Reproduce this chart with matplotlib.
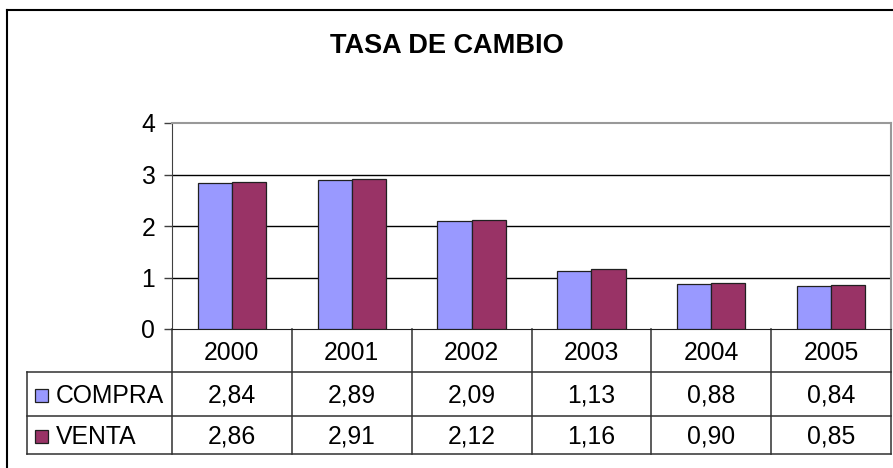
import matplotlib
matplotlib.use("Agg")
import matplotlib.pyplot as plt
import numpy as np
from matplotlib.lines import Line2D
from matplotlib.patches import Rectangle

plt.rcParams['font.family'] = ['Liberation Sans', 'DejaVu Sans']

years = ['2000', '2001', '2002', '2003', '2004', '2005']
compra = [2.84, 2.89, 2.09, 1.13, 0.88, 0.84]
venta = [2.86, 2.91, 2.12, 1.16, 0.90, 0.85]
series_names = ['COMPRA', 'VENTA']
series_colors = ['#9999FF', '#993366']

W, H = 893, 468
fig = plt.figure(figsize=(W / 100, H / 100), dpi=100)
FS = 17.8

# plot area in pixels
px_left, px_right, px_top, px_bottom = 172, 891, 123, 329
ax = fig.add_axes([px_left / W, 1 - px_bottom / H,
                   (px_right - px_left) / W, (px_bottom - px_top) / H])

x = np.arange(len(years))
bw = 1 / 3.5
ax.bar(x - bw / 2, compra, bw, color=series_colors[0], edgecolor='#202020', linewidth=0.9, zorder=3)
ax.bar(x + bw / 2, venta, bw, color=series_colors[1], edgecolor='#202020', linewidth=0.9, zorder=3)

ax.set_xlim(-0.5, len(years) - 0.5)
ax.set_ylim(0, 4)
ax.set_yticks([0, 1, 2, 3, 4])
ax.set_yticklabels(['0', '1', '2', '3', '4'], fontsize=FS)
ax.tick_params(axis='y', length=6, width=1, color='#404040', pad=6, direction='out')
ax.set_xticks([])
for y in [1, 2, 3]:
    ax.axhline(y, color='black', linewidth=1, zorder=1)

ax.spines['left'].set_color('#404040')
ax.spines['bottom'].set_color('#202020')
ax.spines['top'].set_color('#999999')
ax.spines['right'].set_color('#999999')
ax.spines['top'].set_linewidth(1.5)
ax.spines['right'].set_linewidth(1.5)

# data table below the axis
tr = ax.get_xaxis_transform()
ph = px_bottom - px_top
row_edges = [0, -43 / ph, -87 / ph, -125 / ph]
unit = (px_right - px_left) / len(years)
label_left = -0.5 + (27 - px_left) / unit
right = len(years) - 0.5
line_kw = dict(color='#303030', linewidth=1.1, transform=tr, clip_on=False)
dy = -2 / ph  # small shift so caps sit centred in the cells

for r in range(1, 4):
    ax.add_line(Line2D([label_left, right], [row_edges[r]] * 2, **line_kw))
for i in range(len(years) + 1):
    xv = i - 0.5
    ax.add_line(Line2D([xv, xv], [0, row_edges[3]], **line_kw))
ax.add_line(Line2D([label_left, label_left], [row_edges[1], row_edges[3]], **line_kw))

for i, yr in enumerate(years):
    ax.text(i, (row_edges[0] + row_edges[1]) / 2 + dy, yr, transform=tr,
            ha='center', va='center', fontsize=FS)

def fmt(v):
    return f"{v:.2f}".replace('.', ',')

for r, (name, vals, col) in enumerate(zip(series_names, [compra, venta], series_colors)):
    yc = (row_edges[r + 1] + row_edges[r + 2]) / 2
    for i, v in enumerate(vals):
        ax.text(i, yc + dy, fmt(v), transform=tr, ha='center', va='center', fontsize=FS)
    key_x = label_left + 8 / unit
    key_w = 13 / unit
    key_h = 13 / ph
    ax.add_patch(Rectangle((key_x, yc + dy - key_h / 2), key_w, key_h, transform=tr,
                           facecolor=col, edgecolor='#202020', linewidth=0.9, clip_on=False))
    ax.text(label_left + 29 / unit, yc + dy, name, transform=tr, ha='left', va='center', fontsize=FS)

fig.text(447 / W, 1 - 46 / H, 'TASA DE CAMBIO', ha='center', va='center',
         fontsize=19.5, fontweight='bold')

# outer chart frame (cut off at right and bottom)
fig.add_artist(Line2D([7 / W, 1], [1 - 10 / H, 1 - 10 / H], color='black', linewidth=1.5))
fig.add_artist(Line2D([7 / W, 7 / W], [0, 1 - 10 / H], color='black', linewidth=1.5))

fig.savefig('out.png', dpi=100)
